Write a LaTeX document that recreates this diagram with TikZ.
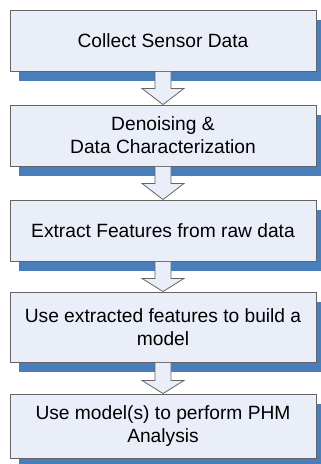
\documentclass[tikz,border=0pt]{standalone}
\usepackage{fontspec}
\setmainfont{Liberation Sans}
\usetikzlibrary{calc,shadows}
\definecolor{boxfill}{RGB}{233,238,248}
\definecolor{boxline}{RGB}{100,100,100}
\definecolor{shadowblue}{RGB}{74,126,187}
\tikzset{
  stepbox/.style={draw=boxline, fill=boxfill, line width=0.9pt,
    minimum width=306pt, inner sep=0pt, align=center,
    font=\fontsize{19.2}{23}\selectfont,
    drop shadow={shadow xshift=9pt, shadow yshift=-10pt,
      fill=shadowblue, opacity=1}},
  blockarrow/.style={draw=boxline, fill=boxfill, line width=0.8pt}
}
\begin{document}
\begin{tikzpicture}[x=1pt,y=1pt]
      \useasboundingbox (0,0) rectangle (321,-464);
      \node[stepbox, minimum height=61pt] (collect) at (163,-40.5) {Collect Sensor Data};
      \node[stepbox, minimum height=61pt] (denoise) at (163,-135.5) {Denoising \&\\Data Characterization};
      \node[stepbox, minimum height=61pt] (extract) at (163,-230.5) {Extract Features from raw data};
      \node[stepbox, minimum height=70pt] (build) at (163,-327) {Use extracted features to build a\\model};
      \node[stepbox, minimum height=64pt] (analysis) at (163,-426) {Use model(s) to perform PHM\\Analysis};
      % block arrows between the steps
      \draw[blockarrow] ($(collect.south)+(-8,-0.5)$) -- ++(0,-16.5) -- ++(-13,0)
        -- (denoise.north) -- ($(collect.south)+(21,-17)$) -- ++(-13,0) -- ++(0,16.5);
      \draw[blockarrow] ($(denoise.south)+(-8,-0.5)$) -- ++(0,-16.5) -- ++(-13,0)
        -- (extract.north) -- ($(denoise.south)+(21,-17)$) -- ++(-13,0) -- ++(0,16.5);
      \draw[blockarrow] ($(extract.south)+(-8,-0.5)$) -- ++(0,-16.5) -- ++(-13,0)
        -- (build.north) -- ($(extract.south)+(21,-17)$) -- ++(-13,0) -- ++(0,16.5);
      \draw[blockarrow] ($(build.south)+(-8,-0.5)$) -- ++(0,-17.5) -- ++(-13,0)
        -- (analysis.north) -- ($(build.south)+(21,-18)$) -- ++(-13,0) -- ++(0,17.5);
    \end{tikzpicture}
\end{document}
